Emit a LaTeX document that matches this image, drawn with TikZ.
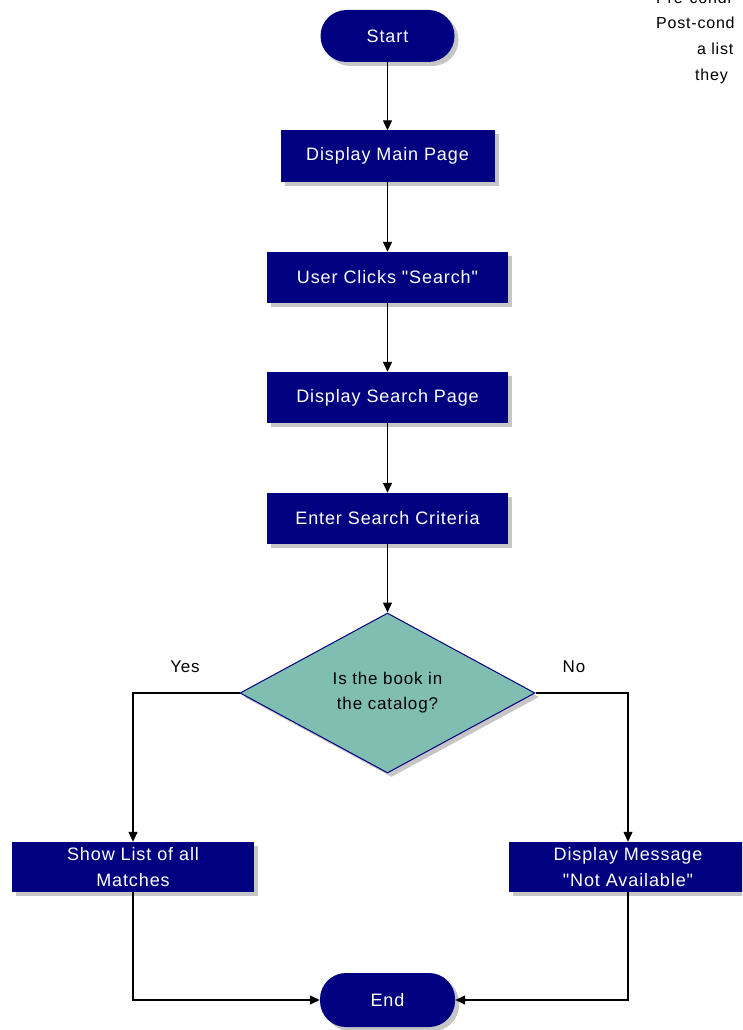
\documentclass[tikz,border=0pt]{standalone}
\usepackage{fontspec}
\setmainfont{Liberation Sans}
\newfontfamily\chartfont[LetterSpace=5]{Liberation Sans}
\usetikzlibrary{arrows.meta, positioning, shapes, shadows}
\definecolor{navy}{RGB}{0,0,128}
\definecolor{sea}{RGB}{128,190,178}

\begin{document}
\begin{tikzpicture}[x=1pt, y=-1pt,
    shade/.style={drop shadow={shadow xshift=4pt, shadow yshift=-4pt, fill=gray!45, opacity=1}},
    box/.style={rectangle, fill=navy, text=white, shade, minimum width=241pt,
        minimum height=51pt, inner sep=0pt, align=center,
        font=\chartfont\fontsize{18}{26}\selectfont},
    terminal/.style={box, rounded corners=26pt, minimum width=134pt, minimum height=52pt},
    decision/.style={diamond, fill=sea, draw=navy, line width=1pt, shade,
        minimum width=295pt, minimum height=160pt, inner sep=0pt, align=center,
        font=\chartfont\fontsize{17}{25}\selectfont},
    label/.style={font=\chartfont\fontsize{17}{20}\selectfont},
    note/.style={anchor=base west, inner sep=0pt, font=\chartfont\fontsize{16}{18}\selectfont},
    arr/.style={-{Triangle[width=9pt, length=10pt]}, line width=1.3pt}]
    \clip (0,0) rectangle (742,1030);

    % Notes (cut at the page edge)
    \node[note] (pre) at (656,4) {Pre-condi};
    \node[note] (post) at (656,29) {Post-cond};
    \node[note] (alist) at (697,55) {a list};
    \node[note] (they) at (695,81) {they};

    % Main column
    \node[terminal] (start) at (387.5,36) {Start};
    \node[box, minimum width=214pt] (main) at (387.5,156) {Display Main Page};
    \node[box] (click) at (387.5,277.5) {User Clicks "Search"};
    \node[box] (spage) at (387.5,397.5) {Display Search Page};
    \node[box] (crit) at (387.5,518.5) {Enter Search Criteria};
    \node[decision] (book) at (387.5,693) {Is the book in\\the catalog?};

    % Branches
    \node[box, minimum width=242pt, minimum height=50pt] (list) at (133,867) {Show List of all\\Matches};
    \node[box, minimum width=238pt, minimum height=50pt] (msg) at (628,867) {Display Message\\"Not Available"};
    \node[terminal, minimum width=135pt, minimum height=54pt] (finish) at (387.5,1000) {End};
    \node[label] (yes) at (185,667) {Yes};
    \node[label] (no) at (574,667) {No};

    % Connectors
    \draw[arr] (start) -- (main);
    \draw[arr] (main) -- (click);
    \draw[arr] (click) -- (spage);
    \draw[arr] (spage) -- (crit);
    \draw[arr] (crit) -- (book);
    \draw[arr] (book.west) -| (list);
    \draw[arr] (book.east) -| (msg);
    \draw[arr] (list) |- (finish);
    \draw[arr] (msg) |- (finish);
\end{tikzpicture}
\end{document}
